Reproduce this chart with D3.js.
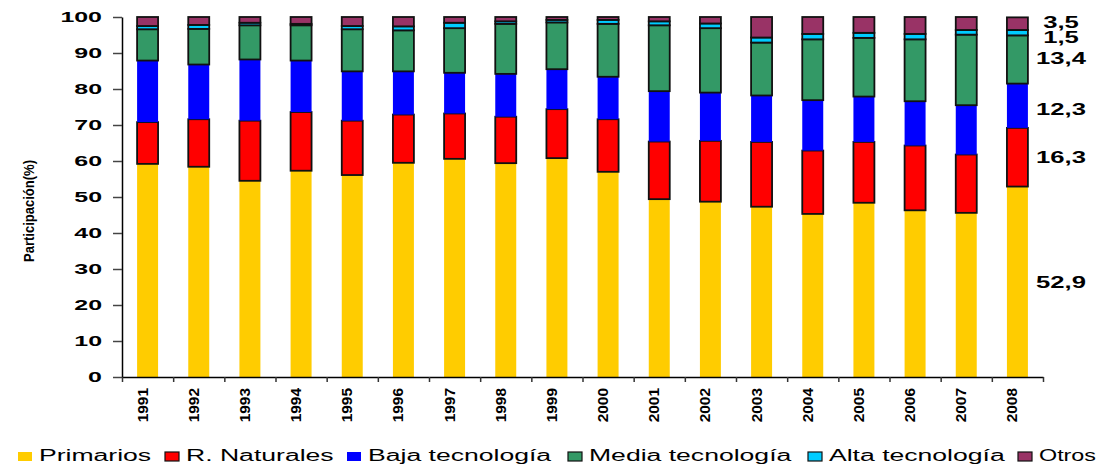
<!DOCTYPE html>
<html>
<head>
<meta charset="utf-8">
<script src="https://cdn.jsdelivr.net/npm/d3@7"></script>
<style>
  html, body { margin: 0; padding: 0; background: #fff; }
  svg { display: block; font-family: "Liberation Sans", Arial, sans-serif; }
</style>
</head>
<body>
<svg id="chart" width="1098" height="464"></svg>
<script>
// ---------- data ----------
const years = ["1991","1992","1993","1994","1995","1996","1997","1998","1999","2000","2001","2002","2003","2004","2005","2006","2007","2008"];
const seriesNames = ["Primarios","R. Naturales","Baja tecnología","Media tecnología","Alta tecnología","Otros"];
const primarios  = [59.2,58.4,54.5,57.3,56.1,59.5,60.6,59.4,60.8,57.0,49.4,48.7,47.3,45.3,48.4,46.3,45.6,52.9];
const rNaturales = [11.6,13.2,16.7,16.3,15.1,13.4,12.6,12.9,13.6,14.6,16.0,16.9,18.0,17.6,16.9,18.0,16.2,16.3];
const baja       = [17.1,15.2,17.0,14.3,13.7,12.0,11.3,11.9,11.1,11.8,14.0,13.4,12.9,14.0,12.6,12.3,13.7,12.3];
const media      = [8.7,9.9,9.5,9.8,11.7,11.4,12.4,13.9,13.0,14.7,18.3,17.9,14.7,16.9,16.3,17.2,19.6,13.4];
const alta       = [0.9,1.1,0.7,0.4,0.9,1.1,1.5,0.7,0.7,1.1,1.1,1.3,1.4,1.5,1.4,1.5,1.3,1.5];
const otros      = [2.5,2.2,1.6,1.9,2.5,2.6,1.6,1.2,0.8,0.8,1.2,1.8,5.7,4.7,4.4,4.7,3.6,3.5];
const lastLabels = ["52,9","16,3","12,3","13,4","1,5","3,5"];
const yTicks = [0,10,20,30,40,50,60,70,80,90,100];
const yTitle = "Participación(%)";

// ---------- styles ----------
const colors = ["#FFCC00","#FF0000","#0000FF","#339966","#00CCFF","#993366"];
const outlined = [false,true,false,true,true,true];

const seriesVals = [primarios, rNaturales, baja, media, alta, otros];
const table = years.map((y,i) => {
  const o = {year: y};
  seriesNames.forEach((s,k) => o[s] = seriesVals[k][i]);
  return o;
});

const svg = d3.select("#chart");
const x0 = 122, x1 = 1043, yTop = 17, yBot = 377;

const x = d3.scaleBand().domain(years).range([x0, x1]).paddingInner(0.59).paddingOuter(0.295);
const y = d3.scaleLinear().domain([0,100]).range([yBot, yTop]);
const idx = d3.scaleLinear().domain([0, years.length]).range([x0, x1]);

function stretch(sel, ratio) {
  sel.each(function() {
    const n = this.getComputedTextLength();
    d3.select(this).attr("textLength", n * ratio).attr("lengthAdjust", "spacingAndGlyphs");
  });
}

// ---------- bars ----------
const stack = d3.stack().keys(seriesNames)(table);
const layers = svg.append("g").selectAll("g").data(stack).join("g")
  .attr("fill", (d,i) => colors[i])
  .attr("stroke", (d,i) => outlined[i] ? "#111" : "none")
  .attr("stroke-width", 1.8);
layers.selectAll("rect").data(d => d).join("rect")
  .attr("x", d => x(d.data.year))
  .attr("width", x.bandwidth())
  .attr("y", d => y(d[1]))
  .attr("height", d => y(d[0]) - y(d[1]));

// ---------- axes ----------
const yAxis = svg.append("g").attr("transform", `translate(${x0},0)`)
  .call(d3.axisLeft(y).tickValues(yTicks).tickSize(9).tickPadding(11).tickSizeOuter(0));
yAxis.select(".domain").attr("stroke", "#000").attr("stroke-width", 1.5);
yAxis.selectAll(".tick line").attr("stroke", "#444").attr("stroke-width", 1.5);
yAxis.selectAll(".tick text")
  .attr("font-family", "'Liberation Sans', Arial, sans-serif")
  .attr("font-size", 14.5).attr("font-weight", "bold").attr("fill", "#000")
  .call(stretch, 1.72);

const xTicks = svg.append("g").attr("transform", `translate(0,${yBot})`)
  .call(d3.axisBottom(idx).tickValues(d3.range(years.length + 1)).tickSize(5).tickFormat("").tickSizeOuter(0));
xTicks.select(".domain").attr("stroke", "#000").attr("stroke-width", 1.5);
xTicks.selectAll(".tick line").attr("stroke", "#333").attr("stroke-width", 1.5);

const xLab = svg.append("g").attr("transform", `translate(0,${yBot})`)
  .call(d3.axisBottom(x).tickSize(0).tickPadding(0));
xLab.select(".domain").remove();
xLab.selectAll(".tick text")
  .attr("font-family", "'Liberation Sans', Arial, sans-serif")
  .attr("font-size", 14).attr("font-weight", "bold").attr("fill", "#000")
  .attr("text-anchor", "end")
  .attr("transform", "translate(0,11) rotate(-90)")
  .attr("x", 0).attr("y", 0).attr("dy", "0")
  .call(stretch, 1.1);

// y title
svg.append("text")
  .attr("transform", "translate(34,211) rotate(-90)")
  .attr("text-anchor", "middle")
  .attr("font-size", 15).attr("font-weight", "bold").attr("fill", "#000")
  .text(yTitle)
  .attr("textLength", 102).attr("lengthAdjust", "spacingAndGlyphs");

// ---------- right labels for last year ----------
const last = stack.map(s => s[s.length - 1]);
const nudge = [1, 0, 4, -1, 5, -1];
svg.append("g").selectAll("text").data(lastLabels).join("text")
  .attr("x", 1061)
  .attr("y", (d,i) => y((last[i][0] + last[i][1]) / 2) + nudge[i])
  .attr("dy", "0.35em")
  .attr("text-anchor", "middle")
  .attr("font-size", 16).attr("font-weight", "bold").attr("fill", "#000")
  .text(d => d)
  .call(stretch, 1.6);

// ---------- legend ----------
const legX = [18, 165, 347, 568, 808, 1018];
const leg = svg.append("g").selectAll("g").data(seriesNames).join("g")
  .attr("transform", (d,i) => `translate(${legX[i]},452)`);
leg.append("rect")
  .attr("width", 14).attr("height", 9)
  .attr("fill", (d,i) => colors[i])
  .attr("stroke", (d,i) => outlined[i] ? "#111" : "none")
  .attr("stroke-width", 1.2);
leg.append("text")
  .attr("x", 21).attr("y", 9)
  .attr("font-size", 16).attr("fill", "#000")
  .text(d => d)
  .each(function(d,i) {
    const n = this.getComputedTextLength();
    const next = i < legX.length - 1 ? legX[i+1] - legX[i] - 10 : 1096 - legX[i];
    const len = Math.min(n * 1.66, next - 21);
    d3.select(this).attr("textLength", len).attr("lengthAdjust", "spacingAndGlyphs");
  });
</script>
</body>
</html>
